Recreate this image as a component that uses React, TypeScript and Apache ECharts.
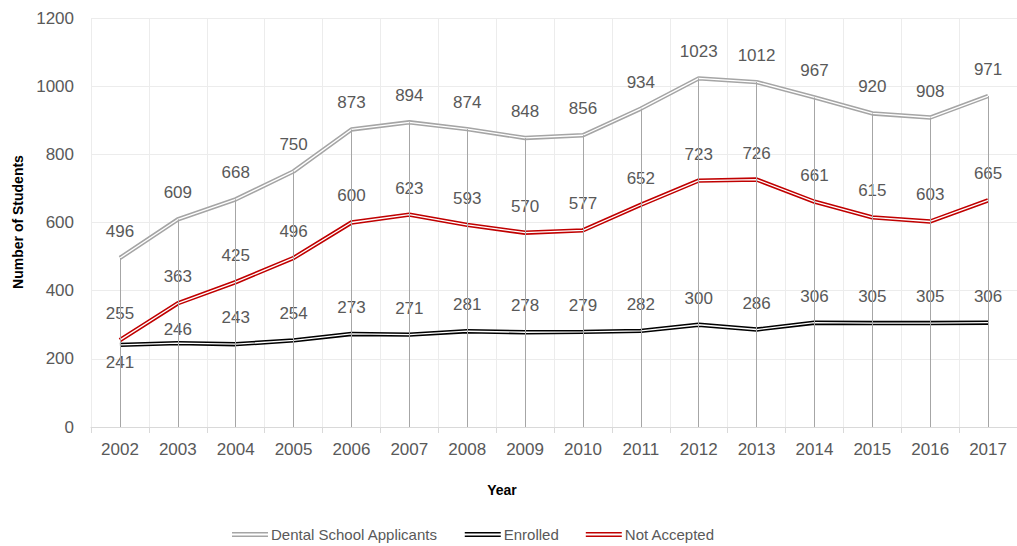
import React, { useEffect, useRef } from "react";
import * as echarts from "echarts";

const years = ["2002","2003","2004","2005","2006","2007","2008","2009","2010","2011","2012","2013","2014","2015","2016","2017"];
const applicants = [496, 609, 668, 750, 873, 894, 874, 848, 856, 934, 1023, 1012, 967, 920, 908, 971];
const enrolled = [241, 246, 243, 254, 273, 271, 281, 278, 279, 282, 300, 286, 306, 305, 305, 306];
const notAccepted = [255, 363, 425, 496, 600, 623, 593, 570, 577, 652, 723, 726, 661, 615, 603, 665];
const yTicks = [0, 200, 400, 600, 800, 1000, 1200];

const FONT = "'Liberation Sans', Arial, sans-serif";
const TXT = "#595959";
const ICON = "path://M0,0H36V1.6H0Z M0,3.6H36V5.2H0Z";

export default function App() {
  const ref = useRef<HTMLDivElement>(null);
  useEffect(() => {
    if (!ref.current) return;
    const chart = echarts.init(ref.current, null, { renderer: "svg" });
    const label = (pos: string, dist: number) => ({
      show: true,
      position: pos,
      distance: dist,
      color: TXT,
      fontSize: 17,
      fontFamily: FONT,
    });
    const mk = (name: string, data: any[], color: string, lab: any) => [
      {
        name,
        type: "line",
        data,
        color,
        z: 2,
        symbol: "none",
        lineStyle: { color, width: 4.4 },
        silent: true,
      },
      {
        name: name + " inner",
        type: "line",
        data,
        z: 3,
        symbol: "circle",
        symbolSize: 0.01,
        showSymbol: true,
        itemStyle: { color: "rgba(0,0,0,0)" },
        lineStyle: { color: "#ffffff", width: 1.3 },
        label: lab,
        silent: true,
      },
    ];
    const enrolledData = enrolled.map((v, i) =>
      i === 0
        ? { value: v, label: { position: "bottom", distance: 9 } }
        : i === 1
        ? { value: v, label: { distance: 5 } }
        : v
    );
    const option: any = {
      animation: false,
      textStyle: { fontFamily: FONT },
      grid: { left: 91, right: 0, top: 18, bottom: 119, containLabel: false },
      legend: {
        left: 232,
        top: 527,
        padding: 0,
        data: ["Dental School Applicants", "Enrolled", "Not Accepted"],
        icon: ICON,
        itemWidth: 36,
        itemHeight: 5.2,
        itemGap: 27,
        textStyle: { color: TXT, fontSize: 15, fontFamily: FONT, padding: [0, 0, 0, -2] },
      },
      xAxis: {
        type: "category",
        data: years,
        boundaryGap: true,
        axisLine: { show: true, lineStyle: { color: "#d9d9d9" } },
        axisTick: { show: true, length: 6, lineStyle: { color: "#d9d9d9" } },
        splitLine: { show: true, lineStyle: { color: "#ececec", width: 1 } },
        axisLabel: { color: TXT, fontSize: 17, fontFamily: FONT, margin: 14 },
      },
      yAxis: {
        type: "value",
        min: yTicks[0],
        max: yTicks[yTicks.length - 1],
        interval: 200,
        axisLine: { show: false },
        axisTick: { show: false },
        splitLine: { show: true, lineStyle: { color: "#ececec", width: 1 } },
        axisLabel: {
          color: TXT,
          fontSize: 17,
          fontFamily: FONT,
          margin: 17,
          formatter: (v: number) => String(v),
        },
      },
      graphic: [
        {
          type: "text",
          x: 18,
          y: 222,
          rotation: Math.PI / 2,
          style: {
            text: "Number of Students",
            fontSize: 14,
            fontWeight: "bold",
            fontFamily: FONT,
            fill: "#000000",
            textAlign: "center",
            textVerticalAlign: "middle",
          },
        },
        {
          type: "text",
          x: 502,
          y: 490,
          style: {
            text: "Year",
            fontSize: 14,
            fontWeight: "bold",
            fontFamily: FONT,
            fill: "#000000",
            textAlign: "center",
            textVerticalAlign: "middle",
          },
        },
      ],
      series: [
        {
          name: "drop",
          type: "line",
          data: applicants,
          z: 1,
          symbol: "none",
          lineStyle: { opacity: 0 },
          silent: true,
          markLine: {
            silent: true,
            symbol: ["none", "none"],
            label: { show: false },
            lineStyle: { color: "#a6a6a6", width: 1, type: "solid" },
            data: applicants.map((v, i) => [
              { coord: [years[i], v] },
              { coord: [years[i], 0] },
            ]),
          },
        },
        ...mk("Dental School Applicants", applicants, "#a5a5a5", label("top", 18)),
        ...mk("Enrolled", enrolledData, "#000000", label("top", 18)),
        ...mk("Not Accepted", notAccepted, "#c00000", label("top", 18)),
      ],
    };
    chart.setOption(option);
    return () => chart.dispose();
  }, []);
  return (
    <div
      ref={ref}
      style={{ position: "absolute", left: 0, top: 0, width: 1017, height: 546, background: "#ffffff" }}
    />
  );
}
